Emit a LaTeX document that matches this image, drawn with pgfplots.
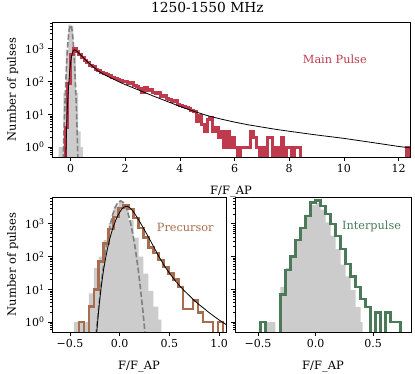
\documentclass[border=0pt]{standalone}
\usepackage{fontspec}
\setmainfont{DejaVu Serif}
\usepackage{pgfplots}
\pgfplotsset{compat=1.18}

\definecolor{mpred}{RGB}{190,58,76}
\definecolor{prbrown}{RGB}{168,108,78}
\definecolor{ipgreen}{RGB}{74,122,88}
\definecolor{offgray}{RGB}{204,204,204}
\definecolor{gaussgray}{RGB}{128,128,128}

\pgfplotsset{
  panel/.style={
    scale only axis, ymin=0.5, ymax=6600,
    axis line style={line width=0.8pt},
    tick align=outside, tick pos=left,
    major tick length=4pt, minor tick length=2pt,
    every tick/.style={black, line width=0.7pt},
    ytick={1,10,100,1000},
    minor ytick={0.6,0.7,0.8,0.9,2,3,4,5,6,7,8,9,20,30,40,50,60,70,80,90,
                 200,300,400,500,600,700,800,900,2000,3000,4000,5000,6000},
    yticklabels={10\textsuperscript{0},10\textsuperscript{1},10\textsuperscript{2},10\textsuperscript{3}},
    tick label style={font=\fontsize{11}{11}\selectfont},
    label style={font=\fontsize{11.5}{12}\selectfont},
    xlabel={F/F\_AP},
    xlabel style={yshift=-6pt},
  },
  hist/.style={const plot, line width=3pt},
  gauss/.style={gaussgray, line width=1.6pt, dash pattern=on 5.5pt off 2.5pt},
}

\begin{document}
\begin{tikzpicture}
\path[use as bounding box] (0,0) rectangle (415pt,374pt);

% ---------------- main pulse ----------------
\begin{axis}[ymode=log, panel, at={(52pt,217pt)}, anchor=south west,
  width=358pt, height=135pt,
  xmin=-0.68, xmax=12.42,
  xtick={0,2,4,6,8,10,12}, xticklabels={0,2,4,6,8,10,12},
  ylabel={Number of pulses},
  title={1250-1550 MHz},
  title style={font=\fontsize{13.8}{14}\selectfont, at={(0.434,1)}, anchor=south, yshift=0pt}]
  % off-pulse
  \addplot[const plot, fill=offgray, draw=none] coordinates {
    (-0.44,0.01) (-0.44,1) (-0.35,1) (-0.26,45) (-0.17,950) (-0.08,5500)
    (0.01,5000) (0.10,870) (0.19,45) (0.28,3) (0.37,1) (0.46,1) (0.46,0.01)};
  \addplot[gauss] coordinates {
    (-0.30,0.044) (-0.275,0.28) (-0.25,1.56) (-0.225,7.3) (-0.2,29.2) (-0.175,98.7)
    (-0.15,284) (-0.125,695) (-0.1,1444) (-0.075,2550) (-0.05,3830) (-0.025,4890)
    (0,5300) (0.025,4890) (0.05,3830) (0.075,2550) (0.1,1444) (0.125,695)
    (0.15,284) (0.175,98.7) (0.2,29.2) (0.225,7.3) (0.25,1.56) (0.275,0.28) (0.30,0.044)};
  % main pulse histogram
  \addplot[hist, mpred] coordinates {
    (-0.2,0.01) (-0.2,4) (-0.1,90) (0.0,650) (0.1,1000) (0.2,850) (0.3,680) (0.4,540)
    (0.5,450) (0.6,380) (0.7,320) (0.8,280) (0.9,240) (1.0,215) (1.1,195) (1.2,180)
    (1.3,165) (1.4,150) (1.5,135) (1.6,128) (1.7,112) (1.8,105) (1.9,98) (2.0,100)
    (2.1,88) (2.2,95) (2.3,75) (2.4,70) (2.5,62) (2.6,48) (2.7,65) (2.8,55) (2.9,58)
    (3.0,45) (3.1,42) (3.2,48) (3.3,35) (3.4,38) (3.5,30) (3.6,28) (3.7,24) (3.8,26)
    (3.9,20) (4.0,19) (4.1,17) (4.2,16) (4.3,15) (4.4,13) (4.5,12) (4.6,6) (4.7,9)
    (4.8,5) (4.9,3) (5.0,7) (5.1,8) (5.2,3) (5.3,4) (5.4,2) (5.5,3) (5.6,1) (5.7,3)
    (5.8,1) (5.9,2) (6.0,1) (6.1,0.01) (6.2,1) (6.3,1) (6.4,1) (6.5,1) (6.6,3) (6.7,2)
    (6.8,1) (6.9,0.01) (7.0,1) (7.1,0.01) (7.2,2) (7.3,2) (7.4,0.01) (7.5,1) (7.6,0.01)
    (7.7,2) (7.8,0.01) (7.9,1) (8.0,1) (8.1,0.01) (8.2,1) (8.3,1) (8.4,0.01)
    (12.3,1) (12.4,1) (12.4,0.01)};
  % fit
  \addplot[black, line width=0.8pt] coordinates {
    (-0.17,0.5) (-0.15,3) (-0.12,15) (-0.08,60) (-0.04,180) (0.0,380) (0.04,620)
    (0.08,820) (0.12,920) (0.15,930) (0.2,880) (0.25,820) (0.35,680) (0.5,500)
    (0.75,320) (1.0,215) (1.25,160) (1.5,127) (1.75,100) (2.0,81) (2.5,55) (3.0,37)
    (3.5,25.5) (4.0,17.5) (4.5,12.5) (5.0,9.2) (5.5,7.2) (6.0,5.8) (6.5,4.8) (7.0,4.1)
    (7.5,3.5) (8.0,3.05) (9.0,2.35) (10.0,1.85) (11.0,1.4) (12.0,1.05) (12.42,0.95)};
  \node[font=\fontsize{11.3}{12}\selectfont, text=mpred] at (rel axis cs:0.79,0.726) {Main Pulse};
\end{axis}

% ---------------- precursor ----------------
\begin{axis}[ymode=log, panel, at={(52pt,42pt)}, anchor=south west,
  width=174pt, height=135pt,
  xmin=-0.68, xmax=1.07,
  xtick={-0.5,0,0.5,1}, xticklabels={−0.5,0.0,0.5,1.0},
  ylabel={Number of pulses}]
  \addplot[const plot, fill=offgray, draw=none] coordinates {
    (-0.46,0.01) (-0.46,1) (-0.41,1) (-0.36,1) (-0.31,7.5) (-0.26,45) (-0.21,100)
    (-0.16,320) (-0.11,1060) (-0.06,3400) (-0.01,4700) (0.04,3400) (0.09,1300)
    (0.14,380) (0.19,100) (0.24,30) (0.29,9) (0.34,3) (0.39,1.2) (0.42,1.2) (0.42,0.01)};
  \addplot[gauss] coordinates {
    (-0.265,0.044) (-0.24,0.33) (-0.215,2.07) (-0.19,10.6) (-0.165,44.9) (-0.14,157)
    (-0.115,451) (-0.09,1073) (-0.065,2100) (-0.04,3400) (-0.015,4540) (0.01,5000)
    (0.035,4540) (0.06,3400) (0.085,2100) (0.11,1073) (0.135,451) (0.16,157)
    (0.185,44.9) (0.21,10.6) (0.235,2.07) (0.26,0.33) (0.285,0.044)};
  \addplot[hist, prbrown, line width=2.5pt] coordinates {
    (-0.41,0.01) (-0.41,1) (-0.36,0.01) (-0.31,3) (-0.26,10) (-0.21,70) (-0.16,250)
    (-0.11,700) (-0.06,1600) (-0.01,3000) (0.04,3800) (0.09,2800) (0.14,1500)
    (0.19,750) (0.24,380) (0.29,190) (0.34,130) (0.39,80) (0.44,49) (0.49,30)
    (0.54,20) (0.59,12) (0.64,2.5) (0.69,2.5) (0.74,4.5) (0.79,2) (0.84,1) (0.89,1)
    (0.94,0.01) (0.99,1) (1.04,1) (1.04,0.01)};
  \addplot[black, line width=0.8pt] coordinates {
    (-0.23,0.5) (-0.22,1.12) (-0.21,2.4) (-0.20,4.8) (-0.19,8.9) (-0.18,15.8)
    (-0.17,26.3) (-0.16,41.7) (-0.14,93) (-0.12,186) (-0.10,339) (-0.08,562)
    (-0.06,871) (-0.04,1259) (-0.02,1738) (0.0,2239) (0.02,2754) (0.04,3162)
    (0.06,3388) (0.08,3388) (0.10,3162) (0.12,2754) (0.15,2089) (0.19,1349)
    (0.23,832) (0.26,575) (0.30,347) (0.35,182) (0.39,107) (0.45,52.5) (0.5,31.6)
    (0.55,20) (0.6,13.2) (0.65,9.1) (0.7,6.5) (0.75,4.6) (0.8,3.4) (0.85,2.6)
    (0.9,1.95) (0.95,1.5) (1.0,1.17) (1.07,0.85)};
  \node[font=\fontsize{11.3}{12}\selectfont, text=prbrown] at (rel axis cs:0.766,0.778) {Precursor};
\end{axis}

% ---------------- interpulse ----------------
\begin{axis}[ymode=log, panel, at={(235pt,42pt)}, anchor=south west,
  width=176pt, height=135pt,
  xmin=-0.70, xmax=0.83,
  xtick={-0.5,0,0.5}, xticklabels={−0.5,0.0,0.5},
  yticklabels={}]
  \addplot[const plot, fill=offgray, draw=none] coordinates {
    (-0.435,0.01) (-0.435,1) (-0.3915,1) (-0.348,0.01) (-0.3045,12) (-0.261,45)
    (-0.2175,110) (-0.174,300) (-0.1305,800) (-0.087,1900) (-0.0435,3700) (0,4400)
    (0.0435,2700) (0.087,1100) (0.1305,440) (0.174,170) (0.2175,57) (0.261,25)
    (0.3045,9.5) (0.348,2.9) (0.3915,1) (0.41,1) (0.41,0.01)};
  \addplot[hist, ipgreen, line width=2.5pt] coordinates {
    (-0.4785,0.01) (-0.4785,1) (-0.435,0.01) (-0.3045,7) (-0.261,39) (-0.2175,99)
    (-0.174,320) (-0.1305,735) (-0.087,1750) (-0.0435,4450) (0,5100) (0.0435,3500)
    (0.087,2000) (0.1305,1000) (0.174,420) (0.2175,170) (0.261,60) (0.3045,25)
    (0.348,12) (0.3915,5) (0.435,2.9) (0.4785,0.01) (0.522,2) (0.5655,0.01)
    (0.609,2) (0.6525,1) (0.696,1) (0.7395,1) (0.7395,0.01)};
  \node[font=\fontsize{11.3}{12}\selectfont, text=ipgreen] at (rel axis cs:0.776,0.78) {Interpulse};
\end{axis}
\end{tikzpicture}
\end{document}
